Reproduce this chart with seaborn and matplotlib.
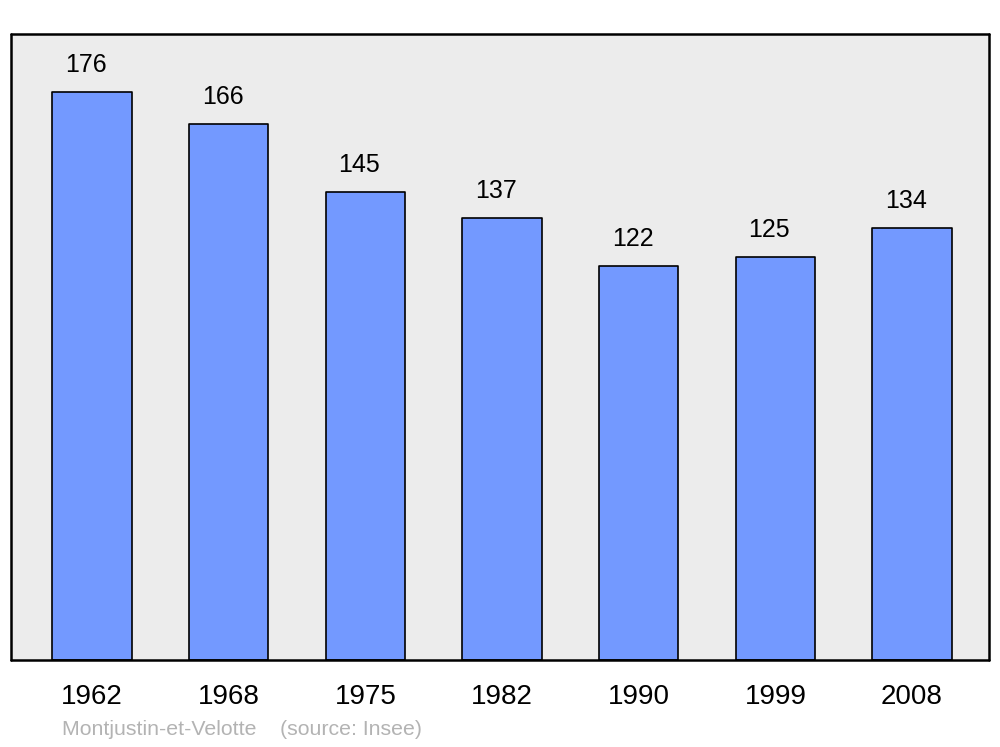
import pandas as pd
import seaborn as sns
import matplotlib.pyplot as plt

# Data
years = ['1962', '1968', '1975', '1982', '1990', '1999', '2008']
population = [176, 166, 145, 137, 122, 125, 134]

df = pd.DataFrame({'year': years, 'population': population})

sns.set_style('white')
plt.rcParams['font.family'] = ['Liberation Sans', 'DejaVu Sans']
plt.rcParams['text.color'] = 'black'
plt.rcParams['xtick.color'] = 'black'

fig = plt.figure(figsize=(10, 7.47), dpi=100)
ax = fig.add_axes([0.011, 0.1165, 0.978, 0.838])
ax.set_facecolor('#ececec')

sns.barplot(data=df, x='year', y='population', color='#7399ff', saturation=1,
            width=0.58, edgecolor='black', linewidth=1.2, ax=ax)

for patch in ax.patches:
    patch.set_joinstyle('round')

# Value labels above bars (sit slightly left of bar centre)
for i, v in enumerate(population):
    ax.text(i - 0.045, v + 4.6, str(v), ha='center', va='bottom',
            fontsize=18, color='black')

ax.set_ylim(0, 194)
ax.set_xlim(-0.593, 6.563)
ax.set_yticks([])
ax.set_xlabel('')
ax.set_ylabel('')
ax.tick_params(axis='x', length=0, pad=17, labelsize=20, labelcolor='black')

for spine in ax.spines.values():
    spine.set_visible(True)
    spine.set_linewidth(1.8)
    spine.set_color('black')
    spine.set_joinstyle('round')
    spine.set_capstyle('round')

fig.text(0.062, 0.0228, 'Montjustin-et-Velotte    (source: Insee)',
         color='#b3b3b3', fontsize=15.3, ha='left', va='center')

fig.savefig('out.png', dpi=100)
